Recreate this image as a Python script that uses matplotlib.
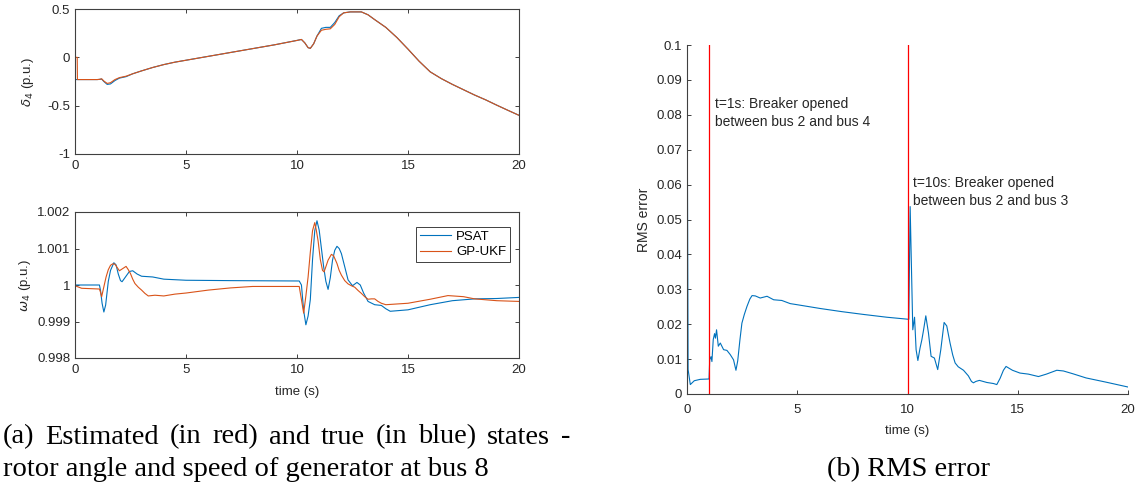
import matplotlib

matplotlib.use("Agg")
import matplotlib.pyplot as plt  # noqa: E402
from matplotlib.ticker import FormatStrFormatter  # noqa: E402

BLUE = "#0072BD"
ORANGE = "#D95319"
AXC = "#404040"

plt.rcParams["font.family"] = ["Liberation Sans", "DejaVu Sans"]
plt.rcParams["axes.unicode_minus"] = False
plt.rcParams["mathtext.fontset"] = "dejavusans"

# rotor angle delta_4 (both series nearly identical)
t_delta = [0, 0.1, 0.11, 0.5, 1.0, 1.1, 1.2, 1.3, 1.45, 1.6, 1.8, 2.0, 2.3, 2.6,
           3.0, 3.5, 4.0, 4.5, 5.0, 6.0, 7.0, 8.0, 9.0, 10.0, 10.2, 10.35, 10.5,
           10.6, 10.75, 10.9, 11.1, 11.3, 11.5, 11.7, 11.9, 12.1, 12.4, 12.9,
           13.2, 13.5, 14.0, 14.5, 15.0, 15.5, 16.0, 16.5, 17.0, 17.5, 18.0,
           18.5, 19.0, 19.5, 20.0]
delta_psat = [-0.23, -0.23, -0.23, -0.23, -0.23, -0.228, -0.225, -0.25, -0.28,
              -0.275, -0.24, -0.215, -0.2, -0.17, -0.14, -0.105, -0.075, -0.05,
              -0.03, 0.01, 0.05, 0.09, 0.13, 0.175, 0.185, 0.15, 0.1, 0.093,
              0.14, 0.22, 0.30, 0.31, 0.31, 0.36, 0.43, 0.46, 0.47, 0.47, 0.44,
              0.39, 0.31, 0.205, 0.085, -0.04, -0.15, -0.22, -0.28, -0.335,
              -0.39, -0.44, -0.495, -0.548, -0.60]
delta_ukf = [0.0, 0.0, -0.23, -0.23, -0.23, -0.228, -0.222, -0.245, -0.27,
             -0.262, -0.23, -0.21, -0.195, -0.17, -0.14, -0.105, -0.075, -0.05,
             -0.03, 0.01, 0.05, 0.09, 0.13, 0.175, 0.185, 0.15, 0.1, 0.093,
             0.14, 0.22, 0.28, 0.29, 0.295, 0.34, 0.42, 0.46, 0.47, 0.47, 0.44,
             0.39, 0.31, 0.205, 0.085, -0.04, -0.15, -0.22, -0.28, -0.335,
             -0.39, -0.44, -0.495, -0.548, -0.60]

# rotor speed omega_4
t_w_psat = [0, 1.1, 1.15, 1.22, 1.3, 1.38, 1.5, 1.6, 1.75, 1.85, 1.95, 2.05,
            2.12, 2.25, 2.45, 2.6, 2.8, 3.0, 3.5, 4.0, 5.0, 7.0, 10.1, 10.2,
            10.3, 10.4, 10.5, 10.6, 10.7, 10.8, 10.9, 11.0, 11.1, 11.2, 11.3,
            11.4, 11.5, 11.6, 11.7, 11.8, 11.9, 12.0, 12.15, 12.3, 12.5, 12.7,
            12.85, 13.0, 13.2, 13.5, 13.8, 14.0, 14.2, 15.0, 16.0, 17.0, 18.0,
            19.0, 20.0]
w_psat = [1.0, 1.0, 0.99985, 0.9995, 0.99926, 0.99945, 1.0001, 1.0004, 1.00061,
          1.00055, 1.0003, 1.00012, 1.00009, 1.0002, 1.00037, 1.00039, 1.0003,
          1.00024, 1.00022, 1.00016, 1.00013, 1.00012, 1.00011, 1.0, 0.9993,
          0.99891, 0.99915, 0.9996, 1.0007, 1.00149, 1.00176, 1.0015, 1.001,
          1.0005, 1.0001, 0.99988, 1.0002, 1.00068, 1.00095, 1.00106, 1.001,
          1.00086, 1.0005, 1.00014, 0.99998, 1.00007, 1.0, 0.99978, 0.99955,
          0.99946, 0.99944, 0.99935, 0.99928, 0.99932, 0.99946, 0.99957,
          0.99962, 0.99963, 0.99966]
t_w_ukf = [0, 0.3, 1.1, 1.15, 1.2, 1.3, 1.4, 1.5, 1.6, 1.7, 1.8, 1.9, 2.0, 2.1,
           2.2, 2.3, 2.4, 2.5, 2.6, 2.7, 2.85, 3.0, 3.15, 3.3, 3.6, 4.0, 4.5,
           5.0, 6.0, 7.0, 8.0, 9.0, 10.1, 10.2, 10.3, 10.4, 10.5, 10.6, 10.7,
           10.8, 10.87, 10.95, 11.05, 11.15, 11.22, 11.3, 11.4, 11.55, 11.65,
           11.8, 11.9, 12.0, 12.15, 12.3, 12.45, 12.6, 12.75, 12.9, 13.05,
           13.2, 13.35, 13.5, 13.65, 13.8, 14.0, 15.0, 16.0, 16.8, 17.5, 18.0,
           19.0, 20.0]
w_ukf = [0.99998, 0.99991, 0.99989, 0.9998, 0.99968, 0.99995, 1.00022, 1.00042,
         1.00054, 1.00058, 1.00057, 1.00048, 1.00039, 1.00043, 1.00047,
         1.00051, 1.00042, 1.00031, 1.00016, 1.00004, 0.99994, 0.99986,
         0.99977, 0.9997, 0.99972, 0.9997, 0.99975, 0.99978, 0.99986, 0.99992,
         0.99996, 0.99996, 0.99996, 0.9996, 0.99923, 0.9997, 1.00022, 1.0009,
         1.00149, 1.00171, 1.0015, 1.00121, 1.0007, 1.0004, 1.00036, 1.0005,
         1.00068, 1.00084, 1.0008, 1.00059, 1.0004, 1.00027, 1.00012, 1.00003,
         0.99998, 0.99994, 0.99985, 0.99977, 0.99968, 0.99961, 0.99962,
         0.99962, 0.99955, 0.9995, 0.99946, 0.9995, 0.99961, 0.99971, 0.99968,
         0.99962, 0.99957, 0.99955]

# RMS error
t_rms = [0, 0.05, 0.15, 0.33, 0.6, 1.0, 1.03, 1.09, 1.13, 1.19, 1.25, 1.29,
         1.34, 1.42, 1.51, 1.66, 1.81, 1.96, 2.11, 2.22, 2.3, 2.4, 2.49, 2.6,
         2.72, 2.85, 2.95, 3.1, 3.32, 3.63, 3.93, 4.3, 4.68, 4.98, 6.04, 7.02,
         8.0, 9.06, 10.06, 10.12, 10.24, 10.32, 10.39, 10.47, 10.57, 10.65,
         10.73, 10.83, 10.95, 11.07, 11.22, 11.37, 11.51, 11.66, 11.78, 11.93,
         12.05, 12.16, 12.3, 12.54, 12.76, 12.9, 12.99, 13.1, 13.26, 13.6,
         13.9, 14.05, 14.2, 14.35, 14.47, 14.6, 14.76, 15.1, 15.48, 15.94,
         16.3, 16.77, 17.07, 17.5, 18.1, 19.0, 20.0]
rms = [0.1, 0.007, 0.0027, 0.0038, 0.0042, 0.0043, 0.0098, 0.0107, 0.0093,
       0.0156, 0.0173, 0.016, 0.0184, 0.0137, 0.0146, 0.0127, 0.0125, 0.0113,
       0.0098, 0.0068, 0.0095, 0.0155, 0.0203, 0.0228, 0.0251, 0.0272,
       0.0282, 0.0281, 0.0275, 0.028, 0.027, 0.0268, 0.0259, 0.0256, 0.0245,
       0.0236, 0.0228, 0.022, 0.0214, 0.0537, 0.0184, 0.022, 0.0127, 0.0096,
       0.0132, 0.0155, 0.0184, 0.0224, 0.0175, 0.0108, 0.0103, 0.007, 0.0127,
       0.0205, 0.0195, 0.0146, 0.0112, 0.0089, 0.0078, 0.0068, 0.0052,
       0.0036, 0.0032, 0.0036, 0.0039, 0.0033, 0.003, 0.0027, 0.0045, 0.0068,
       0.0079, 0.0074, 0.0068, 0.006, 0.0057, 0.005, 0.0057, 0.0068, 0.0066,
       0.0058, 0.0046, 0.0034, 0.002]

events = [1, 10]
event_labels = ["t=1s: Breaker opened\nbetween bus 2 and bus 4",
                "t=10s: Breaker opened\nbetween bus 2 and bus 3"]
event_text_pos = [(1.25, 0.0852), (10.27, 0.0625)]

caption_a1 = "(a) Estimated (in red) and true (in blue) states -"
caption_a2 = "rotor angle and speed of generator at bus 8"
caption_b = "(b) RMS error"


def style(ax, box=True, xpad=4.5):
    for side, sp in ax.spines.items():
        sp.set_color(AXC)
        sp.set_linewidth(0.8)
        if not box and side in ("top", "right"):
            sp.set_visible(False)
    ax.tick_params(direction="in", length=3, width=0.7, colors=AXC,
                   labelsize=9.5, top=box, right=box, labelcolor="#262626")
    ax.tick_params(axis="x", pad=xpad)


W, H = 1145, 493
fig = plt.figure(figsize=(W / 100, H / 100), dpi=100)

ax1 = fig.add_axes([75 / W, 1 - 154 / H, 444 / W, 145 / H])
ax1.plot(t_delta, delta_psat, color=BLUE, lw=0.8)
ax1.plot(t_delta, delta_ukf, color=ORANGE, lw=0.8)
ax1.set_xlim(0, 20)
ax1.set_ylim(-1, 0.5)
ax1.set_xticks([0, 5, 10, 15, 20])
ax1.set_yticks([-1, -0.5, 0, 0.5])
ax1.yaxis.set_major_formatter(FormatStrFormatter("%g"))
ax1.set_ylabel(r"$\delta_4$ (p.u.)", fontsize=9.5, color="#262626", labelpad=8)
style(ax1)

ax2 = fig.add_axes([75 / W, 1 - 358 / H, 444 / W, 146 / H])
ax2.plot(t_w_psat, w_psat, color=BLUE, lw=0.8, label="PSAT")
ax2.plot(t_w_ukf, w_ukf, color=ORANGE, lw=0.8, label="GP-UKF")
ax2.set_xlim(0, 20)
ax2.set_ylim(0.998, 1.002)
ax2.set_xticks([0, 5, 10, 15, 20])
ax2.set_yticks([0.998, 0.999, 1.0, 1.001, 1.002])
ax2.yaxis.set_major_formatter(FormatStrFormatter("%g"))
ax2.set_ylabel(r"$\omega_4$ (p.u.)", fontsize=9.5, color="#262626", labelpad=3)
ax2.set_xlabel("time (s)", fontsize=9.5, color="#262626", labelpad=7)
style(ax2)
leg = ax2.legend(loc="upper right", bbox_to_anchor=(0.98, 0.9), borderaxespad=0,
                 fancybox=False, framealpha=1, fontsize=9.5, handlelength=2.3,
                 handletextpad=0.4, borderpad=0.3, labelspacing=0.25)
leg.get_frame().set_edgecolor(AXC)
leg.get_frame().set_linewidth(0.7)

ax3 = fig.add_axes([687 / W, 1 - 394 / H, 441 / W, 349 / H])
ax3.plot(t_rms, rms, color=BLUE, lw=0.8)
for ev, lab, (tx, ty) in zip(events, event_labels, event_text_pos):
    ax3.axvline(ev, color="#FF0000", lw=0.9)
    ax3.text(tx, ty, lab, fontsize=10, color="#262626", va="top", ha="left",
             linespacing=1.35)
ax3.set_xlim(0, 20)
ax3.set_ylim(0, 0.1)
ax3.set_xticks([0, 5, 10, 15, 20])
ax3.set_yticks([0, 0.01, 0.02, 0.03, 0.04, 0.05, 0.06, 0.07, 0.08, 0.09, 0.1])
ax3.yaxis.set_major_formatter(FormatStrFormatter("%g"))
ax3.set_ylabel("RMS error", fontsize=10, color="#262626", labelpad=4)
ax3.set_xlabel("time (s)", fontsize=9.5, color="#262626", labelpad=6)
style(ax3, box=False, xpad=7.5)

# captions, serif, first line justified like the paper
serif = ["Liberation Serif", "DejaVu Serif"]
cap_fs = 20.5
words = [fig.text(0, 1 - 437 / H, w, family=serif, fontsize=cap_fs, va="center",
                  ha="left") for w in caption_a1.split(" ")]
renderer = fig.canvas.get_renderer()
widths = [t.get_window_extent(renderer).width for t in words]
x0, x1 = 3.0, 570.0
gap = (x1 - x0 - sum(widths)) / (len(words) - 1)
x = x0
for t, w in zip(words, widths):
    t.set_x(x / W)
    x += w + gap
fig.text(3 / W, 1 - 470 / H, caption_a2, family=serif, fontsize=cap_fs,
         va="center", ha="left")
fig.text(908 / W, 1 - 470 / H, caption_b, family=serif, fontsize=cap_fs,
         va="center", ha="center")

fig.savefig("out.png", dpi=100)
plt.close(fig)
